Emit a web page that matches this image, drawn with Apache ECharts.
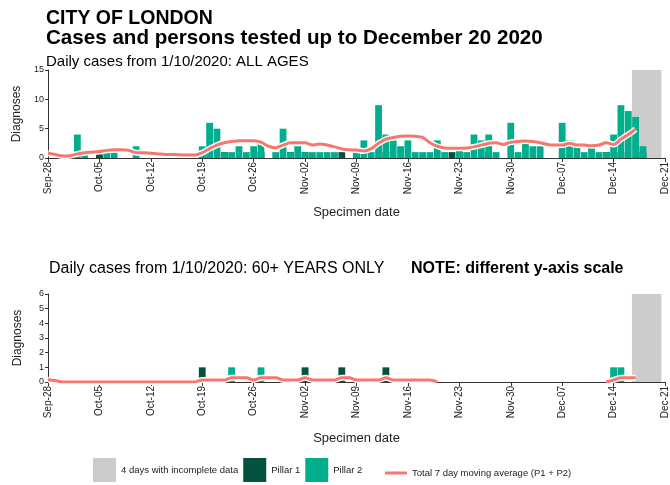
<!DOCTYPE html>
<html>
<head>
<meta charset="utf-8">
<script src="https://cdn.jsdelivr.net/npm/echarts@6/dist/echarts.min.js"></script>
<style>
  html, body { margin: 0; padding: 0; background: #fff; }
  #chart { width: 670px; height: 485px; }
</style>
</head>
<body>
<div id="chart"></div>
<script>
// one value per day, day 0 = Sep-28 ... day 83 = Dec-20
var tickLabels = ['Sep-28', 'Oct-05', 'Oct-12', 'Oct-19', 'Oct-26', 'Nov-02', 'Nov-09',
  'Nov-16', 'Nov-23', 'Nov-30', 'Dec-07', 'Dec-14', 'Dec-21'];
var incompleteDays = [80, 81, 82, 83]; // Dec-17 .. Dec-20

// all ages
var pillar1All = [
  0, 0, 0, 0, 0, 0, 0,
  1, 0, 0, 0, 0, 0, 0,
  0, 0, 0, 0, 0, 0, 0,
  1, 0, 0, 1, 0, 0, 0,
  0, 1, 0, 0, 0, 1, 0,
  1, 0, 0, 0, 0, 1, 0,
  1, 0, 0, 0, 1, 0, 0,
  0, 0, 0, 0, 0, 0, 1,
  1, 0, 0, 0, 1, 0, 0,
  0, 0, 0, 0, 0, 0, 0,
  0, 0, 0, 0, 0, 0, 1,
  0, 1, 0, 0, 1, 0, 0
];
var pillar2All = [
  0, 0, 0, 0, 4, 1, 0,
  0, 1, 1, 0, 0, 2, 0,
  0, 0, 0, 0, 0, 1, 0,
  2, 6, 5, 1, 1, 2, 1,
  2, 3, 0, 1, 5, 1, 2,
  1, 1, 1, 1, 1, 0, 0,
  1, 3, 1, 9, 4, 3, 2,
  3, 1, 1, 1, 3, 1, 0,
  2, 1, 4, 3, 4, 1, 0,
  6, 1, 3, 2, 2, 0, 0,
  6, 3, 2, 1, 2, 1, 1,
  4, 9, 8, 7, 2, 0, 0
];
var avgAll = [
  0.8, 0.6, 0.35, 0.4, 0.7, 0.9, 1.0,
  1.1, 1.3, 1.4, 1.4, 1.3, 0.9, 0.9,
  0.8, 0.7, 0.6, 0.6, 0.55, 0.5, 0.5,
  0.9, 1.6, 2.2, 2.6, 2.8, 2.95, 2.95,
  2.95, 2.7, 2.0, 1.75, 2.2, 2.6, 2.6,
  2.6, 2.2, 2.4, 2.2, 1.9, 1.55, 1.4,
  1.35, 1.2, 1.6, 2.5, 3.2, 3.5, 3.7,
  3.75, 3.7, 3.5, 2.6, 2.0, 1.7, 1.65,
  1.65, 1.7, 1.9, 2.2, 2.5, 2.6, 2.3,
  2.7, 2.8, 2.9, 2.8, 2.6, 2.3, 2.2,
  2.2, 2.5, 2.2, 2.2, 2.1, 2.2, 2.6,
  2.3, 3.2, 4.0, 4.9, null, null, null
];

// 60+ only
var pillar1Old = [
  0, 0, 0, 0, 0, 0, 0,
  0, 0, 0, 0, 0, 0, 0,
  0, 0, 0, 0, 0, 0, 0,
  1, 0, 0, 0, 0, 0, 0,
  0, 0, 0, 0, 0, 0, 0,
  1, 0, 0, 0, 0, 1, 0,
  0, 0, 0, 0, 1, 0, 0,
  0, 0, 0, 0, 0, 0, 0,
  0, 0, 0, 0, 0, 0, 0,
  0, 0, 0, 0, 0, 0, 0,
  0, 0, 0, 0, 0, 0, 0,
  0, 0, 0, 0, 0, 0, 0
];
var pillar2Old = [
  0, 0, 0, 0, 0, 0, 0,
  0, 0, 0, 0, 0, 0, 0,
  0, 0, 0, 0, 0, 0, 0,
  0, 0, 0, 0, 1, 0, 0,
  0, 1, 0, 0, 0, 0, 0,
  0, 0, 0, 0, 0, 0, 0,
  0, 0, 0, 0, 0, 0, 0,
  0, 0, 0, 0, 0, 0, 0,
  0, 0, 0, 0, 0, 0, 0,
  0, 0, 0, 0, 0, 0, 0,
  0, 0, 0, 0, 0, 0, 0,
  1, 1, 0, 0, 0, 0, 0
];
var avgOld = [
  0.15, 0.1, 0, 0, 0, 0, 0,
  0, 0, 0, 0, 0, 0, 0,
  0, 0, 0, 0, 0, 0, 0,
  0.14, 0.14, 0.14, 0.14, 0.29, 0.29, 0.29,
  0.14, 0.29, 0.29, 0.29, 0.14, 0.14, 0.14,
  0.29, 0.14, 0.14, 0.14, 0.14, 0.29, 0.29,
  0.14, 0.14, 0.14, 0.14, 0.29, 0.14, 0.14,
  0.14, 0.14, 0.14, 0.14, 0, null, null,
  null, null, null, null, null, null, null,
  null, null, null, null, null, null, null,
  null, null, null, null, null, null, 0,
  0.14, 0.29, 0.29, 0.29, null, null, null
];

var cGrey = '#cccccc', cP1 = '#03513f', cP2 = '#00ad8c', cAvg = '#f8766d';
var font = 'Liberation Sans, Arial, sans-serif';
var nameIncomplete = '4 days with incomplete data';
var nameAvg = 'Total 7 day moving average (P1 + P2)';

function toXY(arr) {
  return arr.map(function (v, i) { return [i, v]; });
}

function xAxisFor(gridIndex, gap) {
  return {
    gridIndex: gridIndex,
    type: 'value',
    min: 0,
    max: 84,
    interval: 7,
    name: 'Specimen date',
    nameLocation: 'middle',
    nameGap: gap,
    nameTextStyle: { fontSize: 13, color: '#222', fontFamily: font },
    axisLine: { lineStyle: { color: '#333', width: 1 } },
    axisTick: { length: 4, lineStyle: { color: '#333' } },
    splitLine: { show: false },
    axisLabel: {
      rotate: 90, fontSize: 10, margin: 4, color: '#222', fontFamily: font,
      formatter: function (v) { return tickLabels[v / 7]; }
    }
  };
}

function yAxisFor(gridIndex, max, interval) {
  return {
    gridIndex: gridIndex,
    type: 'value',
    min: 0,
    max: max,
    interval: interval,
    name: 'Diagnoses',
    nameLocation: 'middle',
    nameGap: 24,
    nameTextStyle: { fontSize: 12, color: '#222', fontFamily: font },
    axisLine: { show: true, lineStyle: { color: '#333', width: 1 } },
    axisTick: { show: true, length: 3, lineStyle: { color: '#333' } },
    splitLine: { show: false },
    axisLabel: { fontSize: 9, margin: 4, color: '#222', fontFamily: font }
  };
}

function panelSeries(idx, p1, p2, avg, stack) {
  var area = [[
    { xAxis: incompleteDays[0] - 0.5 },
    { xAxis: incompleteDays[incompleteDays.length - 1] + 0.5 }
  ]];
  return [
    {
      name: nameIncomplete, type: 'line', xAxisIndex: idx, yAxisIndex: idx,
      data: [], z: 1, itemStyle: { color: cGrey },
      markArea: { silent: true, itemStyle: { color: cGrey }, data: area }
    },
    {
      name: 'Pillar 1', type: 'bar', stack: stack, xAxisIndex: idx, yAxisIndex: idx,
      barWidth: 6.8, data: toXY(p1), itemStyle: { color: cP1 }, z: 2
    },
    {
      name: 'Pillar 2', type: 'bar', stack: stack, xAxisIndex: idx, yAxisIndex: idx,
      barWidth: 6.8, data: toXY(p2), itemStyle: { color: cP2 }, z: 2
    },
    {
      name: 'halo' + idx, type: 'line', xAxisIndex: idx, yAxisIndex: idx,
      data: toXY(avg), smooth: 0.3, symbol: 'none', silent: true, z: 3,
      lineStyle: { color: '#ffffff', width: 6 }
    },
    {
      name: nameAvg, type: 'line', xAxisIndex: idx, yAxisIndex: idx,
      data: toXY(avg), smooth: 0.3, symbol: 'none', z: 4,
      itemStyle: { color: cAvg }, lineStyle: { color: cAvg, width: 3 }
    }
  ];
}

var chart = echarts.init(document.getElementById('chart'));
var option = {
  animation: false,
  textStyle: { fontFamily: font },
  title: [
    { text: 'CITY OF LONDON', left: 46, top: 9, padding: 0,
      textStyle: { fontSize: 19.5, fontWeight: 'bold', color: '#000', fontFamily: font } },
    { text: 'Cases and persons tested up to December 20 2020', left: 46, top: 28, padding: 0,
      textStyle: { fontSize: 20.6, fontWeight: 'bold', color: '#000', fontFamily: font } },
    { text: 'Daily cases from 1/10/2020: ALL AGES', left: 46, top: 54, padding: 0,
      textStyle: { fontSize: 15, fontWeight: 'normal', color: '#000', fontFamily: font } },
    { text: 'Daily cases from 1/10/2020: 60+ YEARS ONLY', left: 49, top: 261, padding: 0,
      textStyle: { fontSize: 16, fontWeight: 'normal', color: '#000', fontFamily: font } },
    { text: 'NOTE: different y-axis scale', left: 411, top: 261, padding: 0,
      textStyle: { fontSize: 16, fontWeight: 'bold', color: '#000', fontFamily: font } }
  ],
  legend: [
    {
      data: [
        { name: nameIncomplete, icon: 'rect', itemStyle: { color: cGrey } },
        { name: 'Pillar 1', icon: 'rect' },
        { name: 'Pillar 2', icon: 'rect' }
      ],
      left: 93, top: 458, padding: 0, itemWidth: 23, itemHeight: 24, itemGap: 5,
      selectedMode: false,
      textStyle: { fontSize: 9.5, color: '#222', fontFamily: font }
    },
    {
      data: [{ name: nameAvg, icon: 'rect', itemStyle: { color: cAvg } }],
      left: 385, top: 468, padding: 0, itemWidth: 22, itemHeight: 3,
      selectedMode: false,
      textStyle: { fontSize: 9.5, color: '#222', fontFamily: font }
    }
  ],
  grid: [
    { left: 48, right: 3, top: 70, height: 88 },
    { left: 48, right: 3, top: 294, height: 88 }
  ],
  xAxis: [xAxisFor(0, 48), xAxisFor(1, 50)],
  yAxis: [yAxisFor(0, 15, 5), yAxisFor(1, 6, 1)],
  series: panelSeries(0, pillar1All, pillar2All, avgAll, 'all')
    .concat(panelSeries(1, pillar1Old, pillar2Old, avgOld, 'old'))
};
chart.setOption(option);
</script>
</body>
</html>
